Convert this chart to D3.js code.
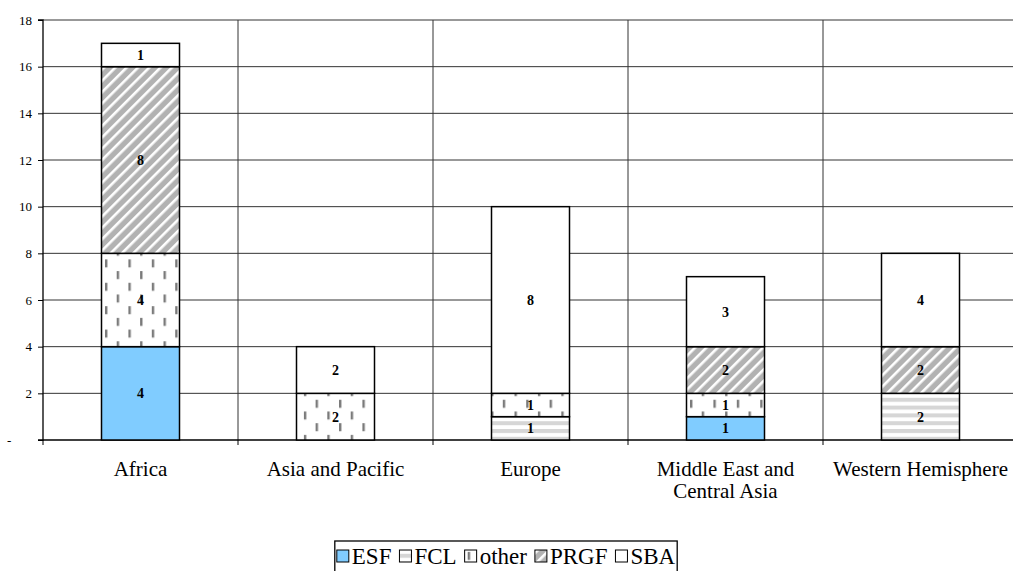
<!DOCTYPE html>
<html><head><meta charset="utf-8">
<script src="https://cdn.jsdelivr.net/npm/d3@7/dist/d3.min.js"></script>
<style>
html,body{margin:0;padding:0;background:#fff;}
svg{display:block;font-family:"Liberation Serif","Times New Roman",serif;}
</style></head>
<body><svg id="c" width="1013" height="571"></svg>
<script>
const categories = ["Africa","Asia and Pacific","Europe","Middle East and Central Asia","Western Hemisphere"];
const categoryLines = [["Africa"],["Asia and Pacific"],["Europe"],["Middle East and","Central Asia"],["Western Hemisphere"]];
const seriesNames = ["ESF","FCL","other","PRGF","SBA"];
const ESF   = [4,0,0,1,0];
const FCL   = [0,0,1,0,2];
const other = [4,2,1,1,0];
const PRGF  = [8,0,0,2,2];
const SBA   = [1,2,8,3,4];
const yTicks = [0,2,4,6,8,10,12,14,16,18];
const yTickLabels = ["-","2","4","6","8","10","12","14","16","18"];

(function(){
const FONT = "Liberation Serif, Times New Roman, serif";
const svg = d3.select("#c");
const defs = svg.append("defs");

const pPRGF = defs.append("pattern").attr("id","pPRGF").attr("patternUnits","userSpaceOnUse")
  .attr("width",8).attr("height",8).attr("patternTransform","rotate(45)");
pPRGF.append("rect").attr("width",8).attr("height",8).attr("fill","#b2b2b2");
pPRGF.append("rect").attr("x",0).attr("width",2.6).attr("height",8).attr("fill","#fff");

const pFCL = defs.append("pattern").attr("id","pFCL").attr("patternUnits","userSpaceOnUse")
  .attr("width",8).attr("height",7.8);
pFCL.append("rect").attr("width",8).attr("height",7.8).attr("fill","#fff");
pFCL.append("rect").attr("y",0).attr("width",8).attr("height",4).attr("fill","#d6d6d6");

const pOther = defs.append("pattern").attr("id","pOther").attr("patternUnits","userSpaceOnUse")
  .attr("width",23.4).attr("height",23.4).attr("x",105).attr("y",0);
pOther.append("rect").attr("width",23.4).attr("height",23.4).attr("fill","#fff");
pOther.append("rect").attr("x",0).attr("y",2).attr("width",2.4).attr("height",8).attr("fill","#7a7a7a");
pOther.append("rect").attr("x",11.7).attr("y",13.7).attr("width",2.4).attr("height",8).attr("fill","#7a7a7a");

const fills = {ESF:"#80ccff", FCL:"url(#pFCL)", other:"url(#pOther)", PRGF:"url(#pPRGF)", SBA:"#ffffff"};

const mLeft = 43, mRight = 1018, mTop = 20, mBottom = 440;
const x = d3.scaleBand().domain(categories).range([mLeft,mRight]).paddingInner(0.6).paddingOuter(0.3);
const y = d3.scaleLinear().domain([0,18]).range([mBottom,mTop]);

svg.append("g").selectAll("line").data(yTicks.filter(d=>d>0)).join("line")
  .attr("x1",mLeft).attr("x2",mRight).attr("y1",d=>y(d)).attr("y2",d=>y(d))
  .attr("stroke","#333").attr("stroke-width",1);
const step = x.step();
const boundaries = categories.map((c,i)=>mLeft + step*(i+1));
svg.append("g").selectAll("line").data(boundaries).join("line")
  .attr("x1",d=>d).attr("x2",d=>d).attr("y1",mTop).attr("y2",mBottom)
  .attr("stroke","#333").attr("stroke-width",1);

const yAxis = d3.axisLeft(y).tickValues(yTicks).tickSize(5).tickFormat((d,i)=>yTickLabels[i]);
const gy = svg.append("g").attr("transform",`translate(${mLeft},0)`).call(yAxis);
gy.attr("font-family",FONT);
gy.select(".domain").attr("stroke","#000").attr("stroke-width",1.3).attr("d",`M-5,${mTop}H0V${mBottom}H-5`);
gy.selectAll(".tick line").attr("stroke","#000");
gy.selectAll(".tick text").attr("font-family",FONT).attr("font-size",13).attr("fill","#000").attr("x",-11);
gy.selectAll(".tick text").filter(d=>d===0).attr("text-anchor","start").attr("x",-36);

svg.append("line").attr("x1",mLeft).attr("x2",mRight).attr("y1",mBottom).attr("y2",mBottom).attr("stroke","#000").attr("stroke-width",1.3);
svg.append("g").selectAll("line").data([mLeft].concat(boundaries)).join("line")
  .attr("x1",d=>d).attr("x2",d=>d).attr("y1",mBottom).attr("y2",mBottom+5).attr("stroke","#000");

const cl = svg.append("g").selectAll("text").data(categories).join("text")
  .attr("x",d=>x(d)+x.bandwidth()/2).attr("y",476).attr("text-anchor","middle")
  .attr("font-family",FONT).attr("font-size",21).attr("fill","#000");
cl.each(function(d,i){
  const t = d3.select(this);
  categoryLines[i].forEach((ln,j)=>{
    t.append("tspan").attr("x",x(d)+x.bandwidth()/2).attr("dy",j===0?0:22).text(ln);
  });
});

const rows = categories.map((c,i)=>({cat:c, ESF:ESF[i], FCL:FCL[i], other:other[i], PRGF:PRGF[i], SBA:SBA[i]}));
const stack = d3.stack().keys(seriesNames)(rows);
const bars = svg.append("g");
stack.forEach(layer=>{
  const key = layer.key;
  layer.forEach(seg=>{
    const v = seg[1]-seg[0];
    if (v<=0) return;
    const cat = seg.data.cat;
    bars.append("rect").attr("x",x(cat)).attr("width",x.bandwidth())
      .attr("y",y(seg[1])).attr("height",y(seg[0])-y(seg[1]))
      .attr("fill",fills[key]).attr("stroke","#000").attr("stroke-width",1.5);
  });
});
stack.forEach(layer=>{
  layer.forEach(seg=>{
    const v = seg[1]-seg[0];
    if (v<=0) return;
    const cat = seg.data.cat;
    bars.append("text").attr("x",x(cat)+x.bandwidth()/2).attr("y",(y(seg[0])+y(seg[1]))/2)
      .attr("dy","0.35em").attr("text-anchor","middle").attr("font-weight","bold")
      .attr("font-family",FONT).attr("font-size",14).attr("fill","#000").text(v);
  });
});

const lg = svg.append("g");
const fs = 23;
let cx = 0;
const items = [];
const tmp = svg.append("text").attr("font-size",fs).attr("font-family",FONT);
seriesNames.forEach(n=>{
  tmp.text(n);
  const w = tmp.node().getComputedTextLength();
  items.push({n, x:cx, w});
  cx += 12 + 3 + w + 8;
});
tmp.remove();
const total = cx - 8;
const lx = 506 - total/2;
lg.append("rect").attr("x",lx-2).attr("y",541).attr("width",total+4).attr("height",40)
  .attr("fill","#fff").attr("stroke","#000").attr("stroke-width",1.3);
items.forEach(it=>{
  lg.append("rect").attr("x",lx+it.x).attr("y",550).attr("width",12).attr("height",12)
    .attr("fill",fills[it.n]).attr("stroke","#000").attr("stroke-width",1);
  lg.append("text").attr("x",lx+it.x+15).attr("y",564).attr("font-family",FONT).attr("font-size",fs).attr("fill","#000").text(it.n);
});
})();
</script></body></html>
